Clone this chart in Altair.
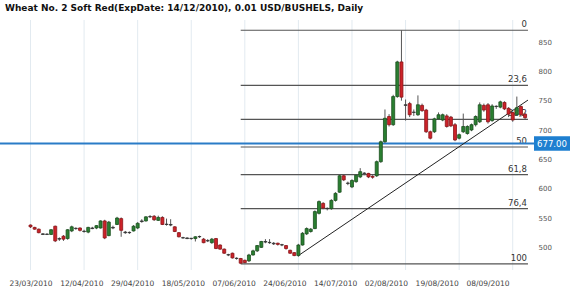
import altair as alt
import pandas as pd

# ---- candle data (bar index 0 = 23/03/2010, trading days) ----
opens = [538, 534, 531, 523, 522, 522, 536, 514, 519, 515, 528, 532, 533, 527, 526, 532, 533, 533, 545, 520,
         533, 539, 549, 526, 525, 528, 533, 544, 545, 552, 553, 546, 551, 539, 539, 535, 525, 516, 516, 515,
         515, 518, 514, 511, 508, 515, 504, 497, 487, 490, 481, 481, 478, 477, 487, 494, 500, 509, 508, 507,
         507, 504, 503, 495, 491, 486, 504, 523, 527, 532, 558, 575, 566, 566, 580, 594, 622, 609, 603, 612,
         620, 626, 626, 621, 622, 646, 680, 723, 709, 757, 816, 743, 745, 730, 726, 742, 734, 697, 697, 719,
         717, 724, 722, 709, 686, 697, 694, 700, 709, 714, 742, 743, 716, 740, 739, 747, 737, 730, 726, 740, 727]
highs = [539, 535, 532, 524, 524, 531, 537, 517, 521, 531, 537, 534, 534, 530, 535, 535, 538, 546, 547, 545,
         537, 552, 551, 528, 527, 538, 543, 548, 553, 555, 555, 554, 553, 549, 548, 536, 526, 518, 517, 516,
         519, 520, 516, 514, 516, 516, 505, 498, 489, 491, 483, 482, 479, 489, 496, 504, 511, 514, 514, 509,
         508, 506, 504, 496, 492, 506, 526, 534, 533, 563, 580, 577, 568, 582, 594, 625, 624, 612, 616, 625,
         635, 628, 627, 623, 648, 682, 735, 727, 760, 818, 870, 752, 748, 735, 759, 745, 736, 699, 721, 730,
         728, 727, 724, 712, 694, 728, 708, 711, 725, 747, 745, 746, 744, 742, 750, 749, 739, 731, 757, 742, 729]
lows = [533, 530, 524, 521, 521, 521, 509, 511, 511, 513, 526, 530, 527, 525, 524, 531, 531, 532, 514, 519,
        531, 538, 518, 523, 523, 527, 531, 542, 544, 550, 545, 545, 538, 537, 536, 526, 517, 515, 514, 513,
        510, 516, 507, 509, 506, 497, 496, 489, 485, 481, 479, 472, 473, 475, 486, 492, 499, 507, 506, 504,
        503, 502, 496, 489, 485, 484, 503, 521, 525, 531, 556, 565, 563, 564, 578, 593, 613, 606, 601, 610,
        618, 623, 618, 617, 620, 644, 678, 706, 707, 755, 750, 716, 722, 724, 724, 731, 695, 684, 695, 717,
        715, 704, 705, 681, 684, 695, 692, 698, 706, 712, 731, 711, 714, 736, 737, 734, 722, 714, 724, 723, 718]
closes = [535, 531, 525, 522, 522.5, 530, 511, 515, 514, 530, 535, 532.5, 529, 527.5, 534, 533, 537, 545, 516, 543,
          534, 550, 529, 525, 525.5, 536, 541, 545, 552, 552.5, 547, 551, 539, 539.5, 538, 527, 518, 516.5, 515, 515.5,
          518, 518.5, 508, 511.5, 514, 498, 497, 490, 487.5, 482, 481.5, 473, 474, 487, 494, 503, 510, 510, 508.5, 506,
          505, 504.5, 498, 490, 486, 504, 524, 532, 531, 561, 578, 567, 566.5, 580, 592, 622, 615, 609.5, 614, 623,
          629, 626.5, 620, 619.5, 646, 680, 720, 709, 757, 816, 756, 742, 726, 730.5, 743, 733, 697, 686, 719, 726,
          726, 706, 707, 683, 692, 706, 706, 709, 723, 743, 734, 714, 741, 740.5, 748, 736, 727, 717, 738, 726, 721]

# ---- axis texts ----
date_labels = ["23/03/2010", "12/04/2010", "29/04/2010", "18/05/2010", "07/06/2010",
               "24/06/2010", "14/07/2010", "02/08/2010", "19/08/2010", "08/09/2010"]
label_step = 12.32      # bars between date labels as drawn in the original
grid_step = 13          # bars between vertical grid lines
y_ticks = [500, 550, 600, 650, 700, 750, 800, 850]

# ---- Fibonacci retracement ----
fib_pcts = [0, 23.6, 38.2, 50, 61.8, 76.4, 100]
fib_texts = ["0", "23,6", "38,2", "50", "61,8", "76,4", "100"]
fib_high = 870
fib_low = 472
fib_start = 51
fib_end = 120.7

# ---- trend line ----
trend_i = [65, 120.7]
trend_p = [486, 751]

last_price = 677
title_text = "Wheat  No. 2 Soft Red(ExpDate: 14/12/2010), 0.01 USD/BUSHELS, Daily"

# ---------------------------------------------------------------
n = len(opens)
df = pd.DataFrame({"i": list(range(n)), "open": opens, "high": highs, "low": lows, "close": closes})
df["kind"] = ["up" if c - o >= 1.5 else ("down" if o - c >= 1.5 else "flat") for o, c in zip(opens, closes)]

fib_df = pd.DataFrame({
    "pct": fib_pcts, "txt": fib_texts,
    "price": [fib_high - p / 100 * (fib_high - fib_low) for p in fib_pcts],
    "i0": fib_start, "i1": fib_end,
})
grid_df = pd.DataFrame({"i": list(range(0, n, grid_step))})
trend_df = pd.DataFrame({"i0": [trend_i[0]], "i1": [trend_i[1]], "p0": [trend_p[0]], "p1": [trend_p[1]]})
last_df = pd.DataFrame({"price": [last_price], "txt": [f"{last_price:.2f}"]})
title_df = pd.DataFrame({"t": [title_text]})

xscale = alt.Scale(domain=[-6.19, 120.95], nice=False, zero=False)
yscale = alt.Scale(domain=[461.4, 887.5], nice=False, zero=False)

label_arr = "[" + ",".join(f"'{d}'" for d in date_labels) + "]"
xaxis = alt.Axis(values=[k * label_step for k in range(len(date_labels))],
                 labelExpr=f"{label_arr}[round(datum.value / {label_step})]",
                 grid=False, ticks=False, domain=False, labelOverlap=False, labelFlush=False,
                 labelFont="DejaVu Sans", labelFontSize=7.5, labelColor="#444444", labelPadding=9, title=None)
yaxis = alt.Axis(orient="right", values=y_ticks, grid=False, ticks=False, domain=False,
                 labelFont="DejaVu Sans", labelFontSize=7, labelColor="#555555", labelPadding=4,
                 labelAlign="left", title=None)


def X(field):
    return alt.X(field, scale=xscale, axis=xaxis)


def Y(field):
    return alt.Y(field, scale=yscale, axis=yaxis)


grid = alt.Chart(grid_df).mark_rule(color="#e2eaf0", strokeWidth=1).encode(x=X("i:Q"))

fib_lines = alt.Chart(fib_df).mark_rule(color="#555555", strokeWidth=1.2).encode(
    x=X("i0:Q"), x2="i1:Q", y=Y("price:Q"))

fib_labels = alt.Chart(fib_df).mark_text(align="right", baseline="bottom", dy=-1, dx=-1,
                                         font="DejaVu Sans", fontSize=8.5, color="#333333").encode(
    x=X("i1:Q"), y=Y("price:Q"), text="txt:N")

last_line = alt.Chart(last_df).mark_rule(color="#2a7cc7", strokeWidth=2).encode(y=Y("price:Q"))

trend = alt.Chart(trend_df).mark_rule(color="#222222", strokeWidth=1).encode(
    x=X("i0:Q"), x2="i1:Q", y=Y("p0:Q"), y2="p1:Q")

wicks = alt.Chart(df).mark_rule(color="#555555", strokeWidth=1).encode(
    x=X("i:Q"), y=Y("low:Q"), y2="high:Q")

kinds = ["up", "down", "flat"]
bodies = alt.Chart(df).mark_bar(width=3, strokeWidth=0.8).encode(
    x=X("i:Q"), y=Y("open:Q"), y2="close:Q",
    color=alt.Color("kind:N", scale=alt.Scale(domain=kinds, range=["#2a7f31", "#cc2229", "#444444"]), legend=None),
    stroke=alt.Stroke("kind:N", scale=alt.Scale(domain=kinds, range=["#1a4f1e", "#8a1418", "#333333"]), legend=None))

box_shape = "M-1,-0.4L1,-0.4L1,0.4L-1,0.4Z"
last_box = alt.Chart(last_df).mark_point(shape=box_shape, filled=True, opacity=1, size=1296,
                                          color="#1e7fd0", strokeWidth=0).encode(
    x=alt.value(552), y=Y("price:Q"))
last_text = alt.Chart(last_df).mark_text(align="center", baseline="middle", font="DejaVu Sans",
                                         fontSize=8.6, color="white").encode(
    x=alt.value(552), y=Y("price:Q"), text="txt:N")

title = alt.Chart(title_df).mark_text(align="left", baseline="middle", font="DejaVu Sans",
                                      fontSize=9, fontWeight="bold", color="#111111").encode(
    x=alt.value(5), y=alt.value(-12), text="t:N")

chart = alt.layer(grid, fib_lines, fib_labels, last_line, trend, wicks, bodies, last_box, last_text, title).properties(
    width=534, height=250,
    padding={"left": 0, "top": 20, "right": 36, "bottom": 26},
    autosize=alt.AutoSizeParams(type="none"),
    background="white",
).configure_view(stroke=None)

chart.save("out.html", embed_options={"renderer": "svg", "actions": False})
